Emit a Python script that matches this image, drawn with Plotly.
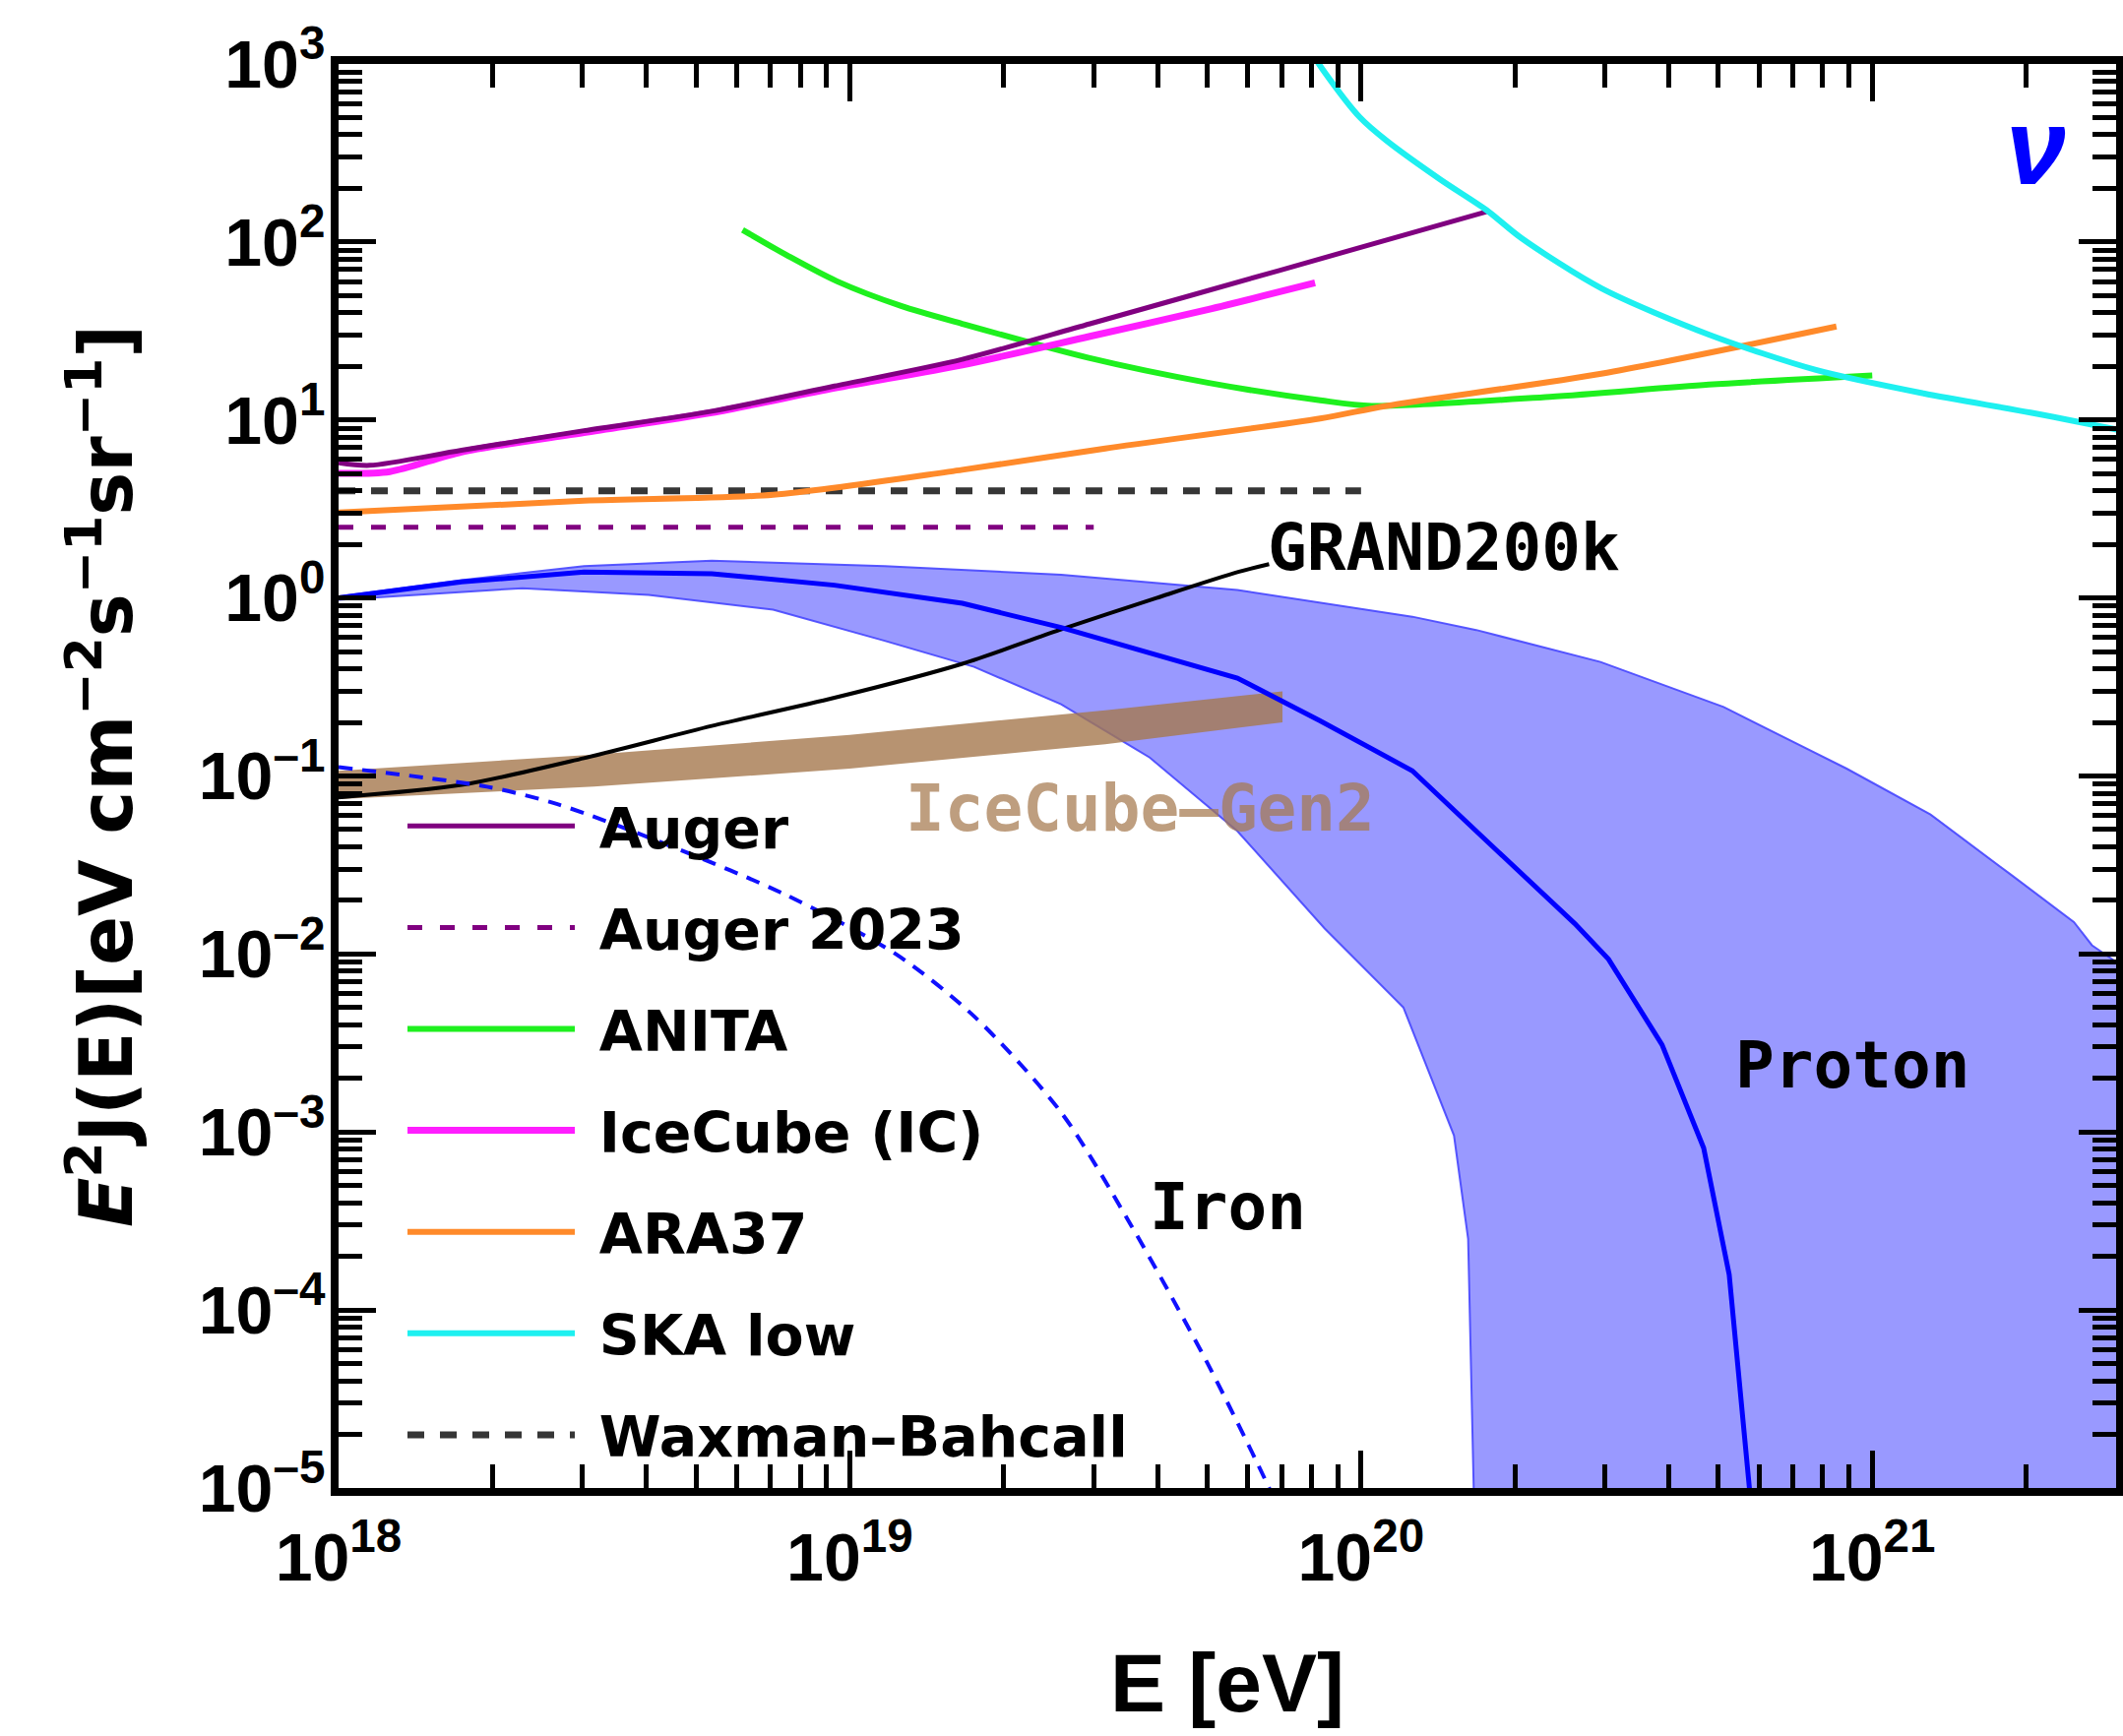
import plotly.graph_objects as go

# ---------------- data ----------------
# Auger (purple, solid)
auger_E = [1e18, 1.15e18, 1.74e18, 3.02e18, 5.37e18, 9.33e18, 1.66e19, 2.95e19, 6.92e19, 1.76e20]
auger_F = [5.75, 5.56, 6.76, 8.71, 11.2, 15.5, 21.9, 34.7, 69.2, 148]

# Auger 2023 (purple, dashed)
auger23_E = [1e18, 3e19]
auger23_F = [2.5, 2.5]

# ANITA (green)
anita_E = [6.17e18, 7.59e18, 9.42e18, 1.26e19, 1.66e19, 2.92e19, 5.01e19, 8.32e19, 1.05e20,
           2.34e20, 4.79e20, 1e21]
anita_F = [117, 83.2, 60.3, 43.7, 34.7, 22.4, 16.2, 12.9, 12.0, 13.5, 15.8, 17.8]

# IceCube (IC) (magenta)
icecube_E = [1e18, 1.26e18, 1.74e18, 3.02e18, 5.37e18, 9.33e18, 1.66e19, 2.95e19, 5.01e19, 8.13e19]
icecube_F = [5.01, 5.13, 6.61, 8.51, 11.0, 15.1, 20.4, 29.5, 41.7, 58.9]

# ARA37 (orange)
ara_E = [1e18, 3.02e18, 7.08e18, 1.66e19, 3.16e19, 8.32e19, 1.12e20, 2.95e20, 8.51e20]
ara_F = [3.02, 3.52, 3.80, 5.25, 6.92, 10.2, 12.0, 18.2, 33.5]

# SKA low (cyan)
ska_E = [7.94e19, 8.41e19, 9.95e19, 1.12e20, 1.43e20, 1.76e20, 2.06e20, 2.95e20,
         4.79e20, 7.76e20, 1.26e21, 2.04e21, 3.02e21]
ska_F = [1202, 933, 501, 372, 224, 151, 105, 55.0, 30.2, 19.1, 14.1, 11.0, 8.81]

# Waxman-Bahcall (dashed)
wb_E = [1e18, 1e20]
wb_F = [4.0, 4.0]

# GRAND200k (black)
grand_E = [1e18, 1.74e18, 3.02e18, 5.37e18, 9.33e18, 1.66e19, 2.57e19, 3.98e19, 5.75e19, 6.61e19]
grand_F = [0.0759, 0.0891, 0.126, 0.191, 0.275, 0.427, 0.661, 1.0, 1.40, 1.55]

# IceCube-Gen2 band (upper / lower)
gen2_E = [1e18, 3.16e18, 1e19, 3.16e19, 7.02e19]
gen2_up = [0.107, 0.132, 0.170, 0.234, 0.299]
gen2_lo = [0.0741, 0.0871, 0.110, 0.151, 0.200]

# Proton band (upper / lower edges) and central proton line
band_up_E = [1e18, 1.74e18, 2.29e18, 3.02e18, 5.37e18, 1.17e19, 2.59e19, 5.73e19, 1.26e20,
             1.68e20, 2.94e20, 5.12e20, 8.91e20, 1.30e21, 1.88e21, 2.48e21, 2.69e21, 3.02e21]
band_up_F = [1.02, 1.26, 1.38, 1.51, 1.62, 1.51, 1.35, 1.11, 0.785,
             0.661, 0.437, 0.244, 0.110, 0.0608, 0.0275, 0.0151, 0.0112, 0.00891]
band_lo_E = [1e18, 2.29e18, 4.04e18, 7.08e18, 1.17e19, 1.75e19, 2.59e19, 3.86e19, 5.73e19,
             8.49e19, 1.21e20, 1.52e20, 1.62e20, 1.67e20]
band_lo_F = [0.977, 1.135, 1.04, 0.859, 0.575, 0.410, 0.253, 0.127, 0.049,
             0.0139, 0.00501, 0.000955, 0.000251, 5.01e-6]
band_floor = 5e-6

proton_E = [1e18, 1.74e18, 3.02e18, 5.37e18, 9.33e18, 1.17e19, 1.66e19, 2.59e19, 5.73e19,
            8.32e19, 1.26e20, 1.68e20, 2.62e20, 3.05e20, 3.88e20, 4.68e20, 5.25e20, 5.75e20, 5.89e20]
proton_F = [1.0, 1.23, 1.40, 1.37, 1.18, 1.08, 0.933, 0.682, 0.355,
            0.204, 0.107, 0.049, 0.0148, 0.00933, 0.00309, 0.000813, 0.000158, 1e-5, 5e-6]

# Iron (blue dashed)
iron_E = [1e18, 1.95e18, 2.69e18, 4.52e18, 7.52e18, 1.23e19, 1.75e19, 2.59e19, 3.56e19,
          5.01e19, 6.61e19, 7.08e19]
iron_F = [0.112, 0.0871, 0.0692, 0.0398, 0.0214, 0.01, 0.00447, 0.00129, 0.000295,
          5.01e-5, 1e-5, 6.31e-6]

# axis ticks
x_tickvals = [1e18, 1e19, 1e20, 1e21]
x_ticktext = ["10<sup>18</sup>", "10<sup>19</sup>", "10<sup>20</sup>", "10<sup>21</sup>"]
y_tickvals = [1e-5, 1e-4, 1e-3, 1e-2, 1e-1, 1e0, 1e1, 1e2, 1e3]
y_ticktext = ["10<sup>–5</sup>", "10<sup>–4</sup>", "10<sup>–3</sup>", "10<sup>–2</sup>",
              "10<sup>–1</sup>", "10<sup>0</sup>", "10<sup>1</sup>", "10<sup>2</sup>", "10<sup>3</sup>"]

SANS = "Liberation Sans, Arial, Helvetica, sans-serif"
WIDE = "DejaVu Sans, Verdana, sans-serif"
MONO = "DejaVu Sans Mono, Liberation Mono, monospace"
NB = "\u00a0"

fig = go.Figure()

# proton band
fig.add_trace(go.Scatter(
    x=band_up_E + [band_up_E[-1]] + band_lo_E[::-1],
    y=band_up_F + [band_floor] + band_lo_F[::-1],
    fill="toself", fillcolor="rgba(0,0,255,0.40)",
    line=dict(color="rgba(70,70,255,0.9)", width=2),
    mode="lines", showlegend=False, hoverinfo="skip"))

# IceCube-Gen2 band
fig.add_trace(go.Scatter(
    x=gen2_E + gen2_E[::-1], y=gen2_up + gen2_lo[::-1],
    fill="toself", fillcolor="rgba(165,120,78,0.80)",
    line=dict(width=0), mode="lines", showlegend=False, hoverinfo="skip"))

def add_line(E, F, name, color, width, dash="solid", show=True, rank=1, smooth=True):
    fig.add_trace(go.Scatter(
        x=E, y=F, name=NB + name, mode="lines",
        line=dict(color=color, width=width, dash=dash,
                  shape="spline" if smooth else "linear", smoothing=0.8),
        showlegend=show, legendgroup=name, legendrank=rank, hoverinfo="skip"))

add_line(wb_E, wb_F, "Waxman–Bahcall", "#363636", 7, "17px,16px", rank=7, smooth=False)
add_line(auger23_E, auger23_F, "Auger 2023", "#800080", 5, "15px,18px", rank=2, smooth=False)
add_line(anita_E, anita_F, "ANITA", "#1EF01E", 6, rank=3)
add_line(ara_E, ara_F, "ARA37", "#FF8A2A", 6, rank=5)
add_line(icecube_E, icecube_F, "IceCube (IC)", "#FF1EFF", 7, rank=4)
add_line(auger_E, auger_F, "Auger", "#800080", 5, rank=1)
add_line(ska_E, ska_F, "SKA low", "#1EF0F0", 6, rank=6)
add_line(grand_E, grand_F, "GRAND200k", "black", 4, show=False)
add_line(iron_E, iron_F, "Iron", "#1010FF", 4, "14px,10px", show=False)
add_line(proton_E, proton_F, "Proton", "#0000FF", 5, show=False, smooth=False)

axis_common = dict(
    type="log", showgrid=False, zeroline=False, automargin=False,
    showline=True, linecolor="black", linewidth=8, mirror="ticks",
    ticks="inside", ticklen=38, tickwidth=5, tickcolor="black",
    minor=dict(ticks="inside", ticklen=24, tickwidth=5, tickcolor="black",
               dtick="D1", showgrid=False),
    tickfont=dict(family=SANS, size=68, color="black", weight="bold"),
)

fig.update_xaxes(**axis_common, range=[18, 21.477],
                 tickmode="array", tickvals=x_tickvals, ticktext=x_ticktext,
                 ticklabelstandoff=4)
fig.update_yaxes(**axis_common, range=[-5, 3],
                 tickmode="array", tickvals=y_tickvals, ticktext=y_ticktext,
                 ticklabelstandoff=-8,
                 title=dict(text="<i>E</i><sup>2</sup>J(E)[eV cm<sup>−2</sup>s<sup>−1</sup>sr<sup>−1</sup>]",
                            standoff=46,
                            font=dict(family=WIDE, size=74, color="black", weight="bold")))

# x-axis title (placed below the tick labels)
fig.add_annotation(xref="paper", yref="paper", x=0.5, y=0, yshift=-198,
                   xanchor="center", yanchor="middle", showarrow=False,
                   text="E [eV]",
                   font=dict(family=SANS, size=84, color="black", weight="bold"))

ann_font = dict(family=MONO, size=66, color="black", weight="bold")
annotations = [
    dict(x=20.162, y=0.282, text="GRAND200k", font=ann_font),
    dict(x=19.569, y=-1.182, text="IceCube–Gen2",
         font=dict(family=MONO, size=66, color="rgba(165,120,78,0.72)", weight="bold")),
    dict(x=19.739, y=-3.42, text="Iron", font=ann_font),
    dict(x=20.961, y=-2.624, text="Proton", font=ann_font),
    dict(x=21.32, y=2.54, text="ν",
         font=dict(family=SANS, size=110, color="#0000FF", weight="bold", style="italic")),
]
for a in annotations:
    fig.add_annotation(xref="x", yref="y", showarrow=False,
                       xanchor="center", yanchor="middle", **a)

fig.update_layout(
    width=2157, height=1764,
    margin=dict(l=344, r=7, t=65, b=252, autoexpand=False),
    paper_bgcolor="white", plot_bgcolor="white",
    font=dict(family=SANS, color="black"),
    legend=dict(x=0.036, y=0.495, xanchor="left", yanchor="top",
                bgcolor="rgba(0,0,0,0)", borderwidth=0,
                font=dict(family=WIDE, size=57, color="black", weight="bold"),
                itemwidth=170, tracegroupgap=26),
)

fig.write_html("out.html")
